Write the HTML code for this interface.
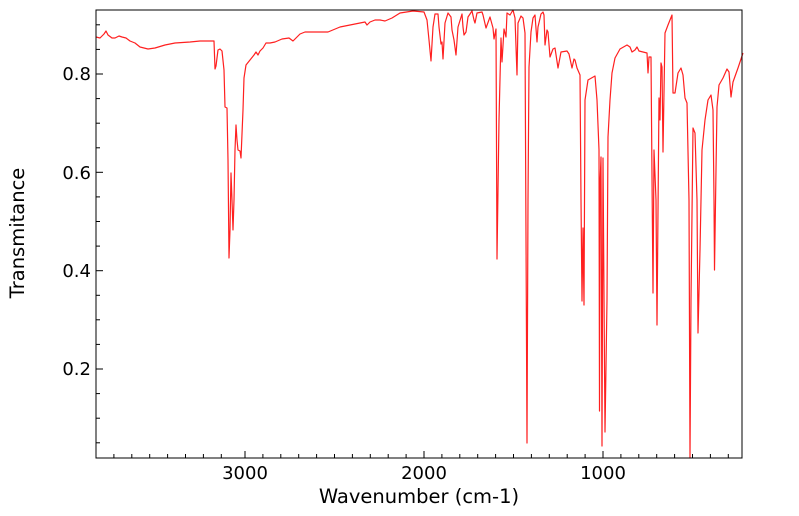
<!DOCTYPE html>
<html><head><style>body{margin:0;background:#fff}svg{display:block}</style></head>
<body>
<svg width="799" height="516" xmlns="http://www.w3.org/2000/svg" font-family="'DejaVu Sans','Liberation Sans',sans-serif">
<rect x="0" y="0" width="799" height="516" fill="#fff"/>
<polyline fill="none" stroke="#ff2020" stroke-width="1.2" stroke-linejoin="round" points="
96,37 100,38 104,34 106,31 108,35 112,38 115,38 119,36 122,37 126,38 130,41 135,43 140,47 148,49 155,48 165,45 175,43 190,42 200,41 214,41
215,69 216,66 218,50 220,49 222,51 224,70 225,107 227,108 228,160 229,258 230,230 231,173 232,200 233,230 234,200 235,150 236,125 237,140 238,150 240,151 241,158 243,110 244,78 246,65 250,60 254,55 256,52 258,55 260,51 263,48 266,43 270,43 275,42 282,39 289,38 293,41 296,38 300,34 305,32 320,32 328,32
340,27 360,23 365,22 367,25 370,22 375,20 380,20 385,21 392,18 400,13 413,11 424,12 427,20 429,40 431,61 433,27 435,14 438,14 439,27 441,44 442,42 443,59 445,23 448,13 451,17 452,30 454,40 456,55 458,27 462,14 463,27 464,35 466,32 468,17 472,11 474,20 475,23 477,13 482,12 483,15 486,28 490,17 493,28 494,39 496,29 497,259 499,120 501,38 502,62 504,29 506,37 507,13 510,15 513,10 515,18 517,75 518,23 521,16 523,18 525,33 527,443 528,200 529,67 531,32 533,18 535,15 537,42 538,27 541,14 543,12 544,15 545,45 547,30 548,32 550,57 553,49 555,48 558,68 561,52 567,51 569,54 572,68 574,59 575,60 577,68 580,75 581,200 582,301 583,228 584,305 585,100 588,80 595,76 597,100 599,150 599.5,411 600,185 601,157 602,446 603,158 605,432 607,300 608,137 610,100 612,73 615,58 620,49 627,45 630,47 632,52 635,50 637,47 639,51 643,52 647,53 648,73 649,57 651,57 652,177 653,293 654,150 656,200 657,325 659,98 660,120 661,63 662,67 663,152 665,33 668,25 672,15 673,93 675,93 678,73 681,68 683,75 685,98 687,103 689,200 690,458 691,300 693,128 695,133 697,200 698,333 700,250 702,150 705,120 708,100 711,95 713,110 714,200 714.5,270 716,170 717,107 719,85 723,78 727,69 729,72 731,97 733,82 738,68 743,53"/>
<rect x="96" y="10" width="646" height="448" fill="none" stroke="#000" stroke-width="1"/>
<g stroke="#000" stroke-width="1">
<line x1="245" y1="458" x2="245" y2="451"/><line x1="424" y1="458" x2="424" y2="451"/><line x1="603" y1="458" x2="603" y2="451"/>
<line x1="113.9" y1="458" x2="113.9" y2="454"/><line x1="131.8" y1="458" x2="131.8" y2="454"/><line x1="149.7" y1="458" x2="149.7" y2="454"/><line x1="167.6" y1="458" x2="167.6" y2="454"/><line x1="185.5" y1="458" x2="185.5" y2="454"/><line x1="203.4" y1="458" x2="203.4" y2="454"/><line x1="221.3" y1="458" x2="221.3" y2="454"/>
<line x1="262.9" y1="458" x2="262.9" y2="454"/><line x1="280.8" y1="458" x2="280.8" y2="454"/><line x1="298.7" y1="458" x2="298.7" y2="454"/><line x1="316.6" y1="458" x2="316.6" y2="454"/><line x1="334.5" y1="458" x2="334.5" y2="454"/><line x1="352.4" y1="458" x2="352.4" y2="454"/><line x1="370.3" y1="458" x2="370.3" y2="454"/><line x1="388.2" y1="458" x2="388.2" y2="454"/><line x1="406.1" y1="458" x2="406.1" y2="454"/>
<line x1="441.9" y1="458" x2="441.9" y2="454"/><line x1="459.8" y1="458" x2="459.8" y2="454"/><line x1="477.7" y1="458" x2="477.7" y2="454"/><line x1="495.6" y1="458" x2="495.6" y2="454"/><line x1="513.5" y1="458" x2="513.5" y2="454"/><line x1="531.4" y1="458" x2="531.4" y2="454"/><line x1="549.3" y1="458" x2="549.3" y2="454"/><line x1="567.2" y1="458" x2="567.2" y2="454"/><line x1="585.1" y1="458" x2="585.1" y2="454"/>
<line x1="620.9" y1="458" x2="620.9" y2="454"/><line x1="638.8" y1="458" x2="638.8" y2="454"/><line x1="656.7" y1="458" x2="656.7" y2="454"/><line x1="674.6" y1="458" x2="674.6" y2="454"/><line x1="692.5" y1="458" x2="692.5" y2="454"/><line x1="710.4" y1="458" x2="710.4" y2="454"/><line x1="728.3" y1="458" x2="728.3" y2="454"/>
<line x1="96" y1="74" x2="103" y2="74"/><line x1="96" y1="172.3" x2="103" y2="172.3"/><line x1="96" y1="270.7" x2="103" y2="270.7"/><line x1="96" y1="369" x2="103" y2="369"/>
<line x1="96" y1="24.8" x2="100" y2="24.8"/><line x1="96" y1="49.4" x2="100" y2="49.4"/><line x1="96" y1="98.6" x2="100" y2="98.6"/><line x1="96" y1="123.2" x2="100" y2="123.2"/><line x1="96" y1="147.8" x2="100" y2="147.8"/><line x1="96" y1="196.9" x2="100" y2="196.9"/><line x1="96" y1="221.5" x2="100" y2="221.5"/><line x1="96" y1="246.1" x2="100" y2="246.1"/><line x1="96" y1="295.3" x2="100" y2="295.3"/><line x1="96" y1="319.8" x2="100" y2="319.8"/><line x1="96" y1="344.4" x2="100" y2="344.4"/><line x1="96" y1="393.6" x2="100" y2="393.6"/><line x1="96" y1="418.2" x2="100" y2="418.2"/><line x1="96" y1="442.8" x2="100" y2="442.8"/>
</g>
<g font-size="18" fill="#000">
<text x="245" y="479" text-anchor="middle">3000</text>
<text x="424" y="479" text-anchor="middle">2000</text>
<text x="603" y="479" text-anchor="middle">1000</text>
<text x="91" y="80" text-anchor="end">0.8</text>
<text x="91" y="179" text-anchor="end">0.6</text>
<text x="91" y="277" text-anchor="end">0.4</text>
<text x="91" y="375" text-anchor="end">0.2</text>
<text x="419" y="503" text-anchor="middle" font-size="19.5">Wavenumber (cm-1)</text>
<text transform="translate(24,233) rotate(-90)" text-anchor="middle" font-size="19.5">Transmitance</text>
</g>
</svg>
</body></html>
